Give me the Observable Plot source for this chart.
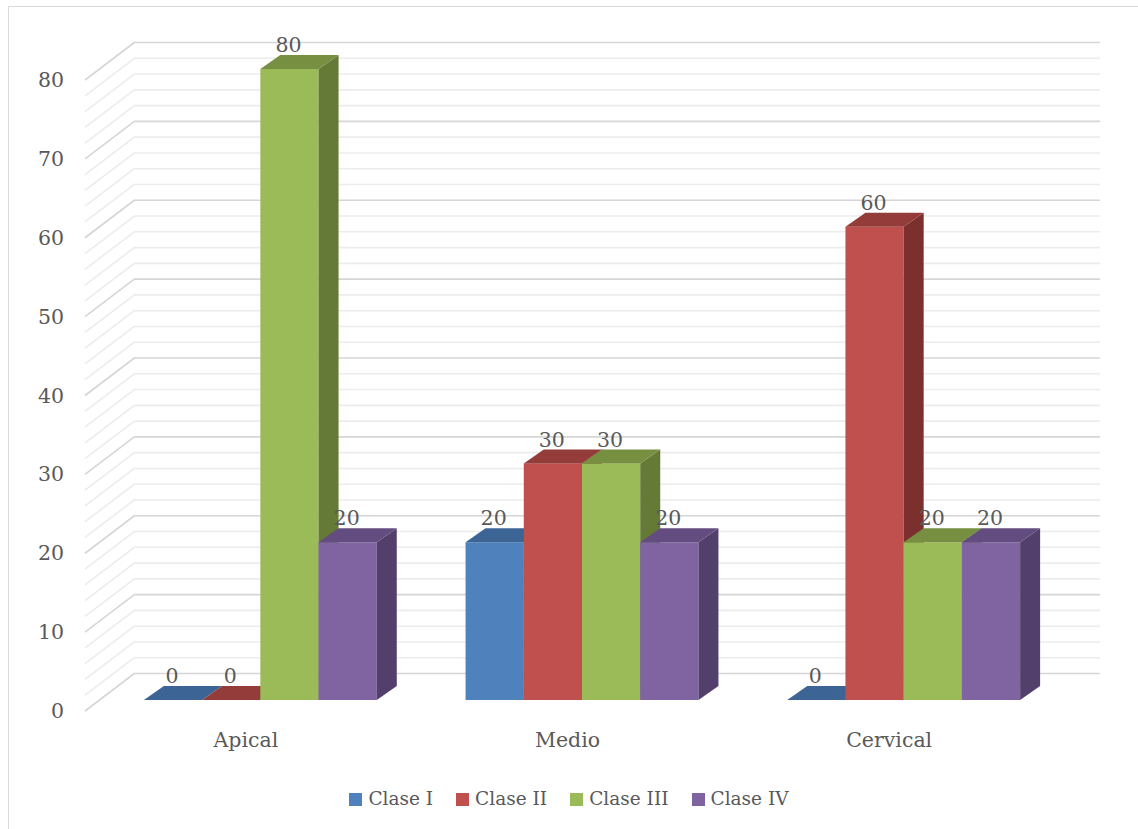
<!DOCTYPE html>
<html><head><meta charset="utf-8">
<script src="https://cdn.jsdelivr.net/npm/d3@7"></script>
<script src="https://cdn.jsdelivr.net/npm/@observablehq/plot@0.6"></script>
<style>
body{margin:0;background:#fff;}
#wrap{position:relative;width:1138px;height:829px;overflow:hidden;font-family:"DejaVu Serif",serif;background:#fff}
#border{position:absolute;left:8px;top:6px;width:1200px;height:900px;border:1.5px solid #d9d9d9;box-sizing:border-box}
#chart{position:absolute;left:0;top:0}
#legend{position:absolute;left:0;top:787px;width:1138px;display:flex;justify-content:center;gap:23px;font-size:18.5px;color:#595959;line-height:24px}
#legend .it{display:flex;align-items:center;gap:6px}
#legend .sw{width:13px;height:13px;display:inline-block}
</style></head><body>
<div id="wrap"><div id="border"></div><div id="chart"></div><div id="legend"></div></div>
<script>
// ---- data ----
const categories = ["Apical", "Medio", "Cervical"];
const seriesNames = ["Clase I", "Clase II", "Clase III", "Clase IV"];
const claseI   = [0, 20, 0];
const claseII  = [0, 30, 60];
const claseIII = [80, 30, 20];
const claseIV  = [20, 20, 20];
const yTicks = [0, 10, 20, 30, 40, 50, 60, 70, 80];
const gridMinor = [2, 4, 6, 8, 12, 14, 16, 18, 22, 24, 26, 28, 32, 34, 36, 38, 42, 44, 46, 48, 52, 54, 56, 58, 62, 64, 66, 68, 72, 74, 76, 78];

// ---- styles ----
const frontColors = ["#4F81BD", "#C0504D", "#9BBB59", "#8064A2"];
const topColors   = ["#3C6494", "#933C3A", "#778F41", "#634D80"];
const sideColors  = ["#375A84", "#7C302E", "#647A36", "#533F6B"];
const textColor = "#595959";
const FONT = "DejaVu Serif, serif";
const AXIS_FS = 20.5;
// depth offsets (pixels)
const BAR_DX = 20, BAR_DY = -14;
const WALL_FRONT_DX = -14.5, WALL_FRONT_DY = 11;
const WALL_BACK_DX = 35.5, WALL_BACK_DY = -27;

const allSeries = [claseI, claseII, claseIII, claseIV];
const rows = [];
allSeries.forEach((vals, si) => vals.forEach((v, ci) => rows.push({cat: categories[ci], series: seriesNames[si], si, value: v})));

function bw(x) { return typeof x.bandwidth === "function" ? x.bandwidth() : x.bandwidth; }

function wallDiagonals(values, color) {
  return (index, scales, vals, dims) => {
    const y = scales.y;
    const x0 = dims.marginLeft;
    const g = d3.create("svg:g");
    values.forEach(v => {
      g.append("line")
        .attr("x1", x0 + WALL_FRONT_DX).attr("y1", y(v) + WALL_FRONT_DY)
        .attr("x2", x0 + WALL_BACK_DX).attr("y2", y(v) + WALL_BACK_DY)
        .attr("stroke", color).attr("stroke-width", 1.6);
    });
    return g.node();
  };
}

function seriesFaces(si) {
  return (index, scales) => {
    const x = scales.x, y = scales.y;
    const w = bw(x) / seriesNames.length;
    const g = d3.create("svg:g");
    rows.filter(r => r.si === si).forEach(r => {
      const x0 = x(r.cat) + si * w, x1 = x0 + w;
      const yv = y(r.value), y0 = y(0);
      if (y0 - yv > 0.5) {
        g.append("rect").attr("x", x0).attr("y", yv).attr("width", w).attr("height", y0 - yv)
          .attr("fill", frontColors[si]);
        g.append("polygon")
          .attr("points", [[x1, yv], [x1 + BAR_DX, yv + BAR_DY], [x1 + BAR_DX, y0 + BAR_DY], [x1, y0]].map(p => p.join(",")).join(" "))
          .attr("fill", sideColors[si]);
      }
      g.append("polygon")
        .attr("points", [[x0, yv], [x1, yv], [x1 + BAR_DX, yv + BAR_DY], [x0 + BAR_DX, yv + BAR_DY]].map(p => p.join(",")).join(" "))
        .attr("fill", topColors[si]);
    });
    return g.node();
  };
}

function valueLabels() {
  return (index, scales) => {
    const x = scales.x, y = scales.y;
    const w = bw(x) / seriesNames.length;
    const g = d3.create("svg:g");
    rows.forEach(r => {
      g.append("text")
        .attr("x", x(r.cat) + r.si * w + w / 2 - 1)
        .attr("y", y(r.value) - 24)
        .attr("dy", "0.35em")
        .attr("text-anchor", "middle")
        .attr("fill", textColor)
        .attr("font-family", FONT)
        .attr("font-size", AXIS_FS)
        .text(String(r.value));
    });
    return g.node();
  };
}

const marks = [
  Plot.ruleY(gridMinor, {y: d => d, dx: WALL_BACK_DX, dy: WALL_BACK_DY, stroke: "#ececec", strokeWidth: 1.6}),
  wallDiagonals(gridMinor, "#ececec"),
  Plot.ruleY(yTicks, {y: d => d, dx: WALL_BACK_DX, dy: WALL_BACK_DY, stroke: "#d6d6d6", strokeWidth: 1.6}),
  wallDiagonals(yTicks, "#d6d6d6"),
  ...seriesNames.map((s, si) => seriesFaces(si)),
  valueLabels(),
  Plot.text(yTicks, {y: d => d, text: d => String(d), frameAnchor: "left", dx: -36, dy: WALL_FRONT_DY, textAnchor: "end", fill: textColor, fontSize: AXIS_FS}),
  Plot.text(categories, {x: d => d, text: d => d, frameAnchor: "bottom", dx: -15, dy: 46, fill: textColor, fontSize: AXIS_FS})
];

const chart = Plot.plot({
  width: 1138,
  height: 770,
  marginLeft: 99.5,
  marginRight: 73.5,
  marginTop: 69,
  marginBottom: 70,
  style: {fontFamily: FONT, background: "transparent"},
  x: {type: "band", domain: categories, paddingInner: 0.276, paddingOuter: 0.138, round: false, axis: null},
  y: {domain: [0, 80], axis: null},
  marks
});
document.getElementById("chart").appendChild(chart);

const legend = document.getElementById("legend");
seriesNames.forEach((s, i) => {
  const it = document.createElement("div");
  it.className = "it";
  const sw = document.createElement("span");
  sw.className = "sw";
  sw.style.background = frontColors[i];
  const t = document.createElement("span");
  t.textContent = s;
  it.appendChild(sw); it.appendChild(t);
  legend.appendChild(it);
});
</script>
</body></html>
